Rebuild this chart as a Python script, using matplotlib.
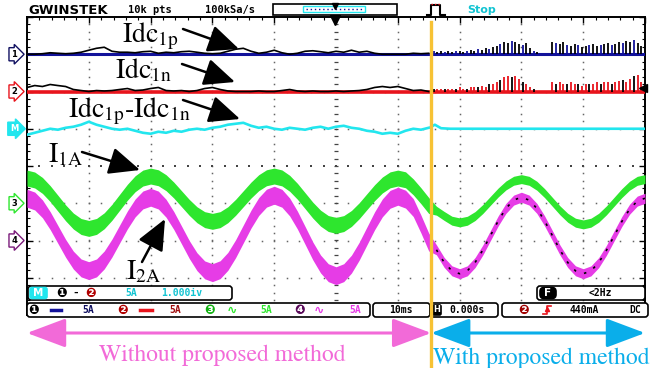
import numpy as np
import matplotlib
matplotlib.use("Agg")
import matplotlib.pyplot as plt
from matplotlib.patches import FancyBboxPatch, Rectangle
from matplotlib.transforms import blended_transform_factory as blend

plt.rcParams['mathtext.fontset'] = 'stix'

# ---------------- data ----------------
t_start, t_end = -50.0, 50.0      # ms  (10 ms/div, trigger at centre)
t_switch = 15.4                    # ms  proposed method switched on
amps_per_div = 5.0                 # 5 A/div on every channel

# phase currents I1A (ch3) and I2A (ch4), band centre in A, every 1.25 ms
t_wave = np.linspace(t_start, t_end, 81)
i1a = [3.38, 3.12, 2.39, 1.29, 0.00, -1.29, -2.39, -3.12, -3.38,
       -3.11, -2.35, -1.21, 0.14, 1.48, 2.62, 3.38, 3.65,
       3.42, 2.76, 1.77, 0.61, -0.55, -1.54, -2.20, -2.43,
       -2.20, -1.54, -0.55, 0.61, 1.77, 2.76, 3.42, 3.65,
       3.40, 2.68, 1.61, 0.34, -0.93, -2.00, -2.72, -2.97,
       -2.73, -2.04, -1.01, 0.21, 1.42, 2.45, 3.14, 3.38,
       3.15, 2.20, 1.00, -0.30, -1.00, -1.70, -2.34, -2.57,
       -2.35, -1.72, -0.78, 0.34, 1.45, 2.39, 3.02, 3.24,
       3.01, 2.35, 1.36, 0.20, -0.96, -1.95, -2.61, -2.84,
       -2.61, -1.95, -0.96, 0.20, 1.36, 2.35, 3.01, 3.24]
i2a = [5.67, 5.30, 4.25, 2.67, 0.81, -1.05, -2.63, -3.68, -4.05,
       -3.68, -2.61, -1.01, 0.88, 2.77, 4.37, 5.44, 5.81,
       5.43, 4.33, 2.69, 0.75, -1.20, -2.84, -3.94, -4.32,
       -3.92, -2.80, -1.11, 0.88, 2.87, 4.56, 5.68, 6.08,
       5.67, 4.50, 2.75, 0.68, -1.40, -3.15, -4.32, -4.73,
       -4.32, -3.17, -1.44, 0.61, 2.65, 4.38, 5.53, 5.94,
       5.55, 4.42, 2.20, -0.20, -1.25, -2.94, -4.07, -4.46,
       -4.07, -2.96, -1.29, 0.68, 2.64, 4.31, 5.42, 5.81,
       5.42, 4.31, 2.64, 0.68, -1.29, -2.96, -4.07, -4.46,
       -4.08, -2.98, -1.33, 0.61, 2.55, 4.19, 5.29, 5.67]
i1a_ripple = [1.07, 0.60]          # half band (A) before / after switch
i2a_ripple = [1.20, 0.67]

# DC-link currents before the switch, every 1.25 ms (A above baseline)
t_dc = np.linspace(t_start, 15.0, 53)
idc1p_before = [0.00, 0.00, 0.07, 0.20, 0.13, 0.07, 0.13, 0.27, 0.54, 0.80,
                0.94, 0.40, 0.27, 0.27, 0.20, 0.34, 0.40, 0.13, 0.27, 0.20,
                0.34, 0.40, 0.27, 0.13, 0.07, 0.13, 0.40, 0.67, 0.80, 0.40,
                0.13, 0.27, 0.54, 0.20, 0.00, 0.13, 0.40, 0.47, 0.34, 0.20,
                0.40, 0.27, 0.54, 0.27, 0.40, 0.13, 0.00, 0.00, 0.00, 0.00,
                0.13, 0.07, 0.13]
idc1n_before = [0.54, 0.80, 0.67, 0.94, 0.80, 0.67, 0.27, 0.13, 0.00, 0.13,
                0.07, 0.13, 0.27, 0.40, 0.13, 0.20, 0.40, 0.54, 0.13, 0.07,
                0.13, 0.00, 0.13, 0.40, 0.54, 0.27, 0.07, 0.00, 0.00, 0.00,
                0.07, 0.00, 0.00, 0.13, 0.27, 0.07, 0.00, 0.07, 0.00, 0.00,
                0.07, 0.00, 0.07, 0.13, 0.27, 0.54, 0.67, 0.54, 0.67, 0.40,
                0.13, 0.20, 0.00]
idc_diff_before = [-0.80, -0.54, -0.27, 0.00, -0.13, 0.13, 0.27, 0.54, 0.94, 0.54,
                   0.27, 0.00, -0.13, 0.00, -0.27, -0.54, -0.67, -0.40, -0.54, -0.27,
                   -0.40, -0.13, 0.00, -0.13, 0.13, 0.27, 0.54, 0.67, 0.80, 0.40,
                   0.13, 0.27, 0.00, -0.13, 0.13, 0.00, -0.13, 0.13, 0.27, 0.00,
                   0.27, 0.40, 0.13, 0.00, -0.27, -0.40, -0.67, -0.54, -0.67, -0.27,
                   0.00, -0.13, 0.13]
t_diff_after = [15.4, 16.0, 17.0, 18.5, 50.0]
idc_diff_after = [0.27, 0.54, 0.07, 0.00, 0.00]

# DC-link current pulses after the switch (A)
t_spike = np.linspace(15.8, 49.4, 57)
idc1p_spike = [0.40, 0.27, 0.40, 0.27, 0.40, 0.27, 0.40, 0.40, 0.27, 0.40,
               0.54, 0.40, 0.67, 0.54, 0.80, 0.67, 0.94, 1.07,
               1.34, 1.61, 1.47, 1.74, 1.61, 1.34, 1.21, 1.47, 0.80,
               0.40, 0.27, 0.00, 0.00, 0.00,
               1.61, 1.47, 1.34, 1.61, 1.21, 1.07, 1.34, 1.21, 0.94, 1.07,
               1.21, 1.34, 1.07, 1.21, 1.34, 1.47, 1.21, 1.34, 1.61, 1.47,
               1.74, 1.61, 1.88, 1.47, 1.07]
idc1n_spike = [0.27, 0.40, 0.27, 0.40, 0.40, 0.27, 0.40, 0.54, 0.40, 0.40,
               0.54, 0.67, 0.54, 0.80, 0.67, 0.94, 1.07, 1.21,
               1.61, 1.88, 2.14, 2.01, 2.14, 1.74, 1.34, 1.07, 0.67,
               0.27, 0.00, 0.00, 0.00, 0.00,
               1.34, 1.07, 1.21, 0.94, 1.07, 1.21, 0.94, 1.07, 0.80, 0.94,
               1.07, 0.94, 1.21, 1.07, 1.21, 1.34, 1.07, 1.21, 1.47, 1.61,
               1.34, 1.74, 2.14, 2.28, 1.34]
trigger_level = 0.44   # A on ch2

# ---------------- style ----------------
BLUE = '#12129a'
RED = '#e8141c'
CYAN = '#22e6ee'
GREEN = '#2ee62e'
MAG = '#e63ce6'
ORANGE = '#f7c234'
PINK = '#f26ad8'
SKY = '#0aaeea'
TXTC = '#12c4d2'
OFF = {'ch1': 3, 'ch2': 2, 'math': 1, 'ch3': -1, 'ch4': -2}

W, H = 654, 368
L, R, T, B = 27, 645, 17, 315
fig = plt.figure(figsize=(W / 100, H / 100), dpi=100)
ax = fig.add_axes([L / W, 1 - B / H, (R - L) / W, (B - T) / H])
ax.set_xlim(t_start, t_end)
ax.set_ylim(-4, 4)
for s in ['left', 'top', 'right']:
    ax.spines[s].set_linewidth(1.4)
ax.spines['bottom'].set_visible(False)
ax.set_xticks(np.arange(-50, 51, 10))
ax.set_xticks(np.arange(-50, 51, 2), minor=True)
ax.set_yticks(np.arange(-4, 5, 1))
ax.set_yticks(np.arange(-4, 4.01, 0.2), minor=True)
ax.tick_params(which='both', direction='in', top=True, bottom=False, left=True,
               right=True, labelleft=False, labelbottom=False, labeltop=False)
ax.tick_params(which='major', length=4, width=1)
ax.tick_params(which='minor', length=2.5, width=0.8)

# grid dots
ydots = np.arange(-4, 4.001, 0.2)
xdots = np.arange(-50, 50.01, 2)
for gx in np.arange(-40, 41, 10):
    if gx == 0:
        continue
    ax.plot(np.full_like(ydots, gx), ydots, ls='none', marker='s', ms=1.1,
            mew=0, color='#666666', zorder=1)
for gy in [-3, -2, -1, 1, 2, 3]:
    ax.plot(xdots, np.full_like(xdots, gy), ls='none', marker='s', ms=1.1,
            mew=0, color='#666666', zorder=1)
ax.plot(np.zeros_like(ydots), ydots, ls='none', marker='_', ms=3.5, mew=0.9,
        color='#444444', zorder=1)
ax.plot(xdots, np.zeros_like(xdots), ls='none', marker='s', ms=1.6, mew=0,
        color='#444444', zorder=1)


def pos(off, vals):
    return off + np.asarray(vals) / amps_per_div


# ch1 Idc1p
o = OFF['ch1']
ax.plot([t_start, t_end], [o, o], color=BLUE, lw=2.2, zorder=3,
        solid_capstyle='butt')
ax.plot(t_dc, pos(o, idc1p_before), color='black', lw=1.2, zorder=4)
cols1 = ['black' if i % 3 else BLUE for i in range(len(t_spike))]
ax.vlines(t_spike, o, pos(o, idc1p_spike), colors=cols1, lw=1.3, zorder=4)

# ch2 Idc1n
o = OFF['ch2']
ax.plot([t_start, t_end], [o, o], color=RED, lw=2.6, zorder=3,
        solid_capstyle='butt')
ax.plot(t_dc, pos(o, idc1n_before), color='black', lw=1.2, zorder=4)
cols2 = [RED if i % 3 else 'black' for i in range(len(t_spike))]
ax.vlines(t_spike, o, pos(o, idc1n_spike), colors=cols2, lw=1.3, zorder=4)

# math Idc1p - Idc1n
o = OFF['math']
ax.plot(t_dc, pos(o, idc_diff_before), color=CYAN, lw=1.9, zorder=4)
ax.plot(t_diff_after, pos(o, idc_diff_after), color=CYAN, lw=1.9, zorder=4)

# ch3 I1A
o = OFF['ch3']
hw = np.where(t_wave < t_switch, i1a_ripple[0], i1a_ripple[1]) / amps_per_div
c = pos(o, i1a)
ax.fill_between(t_wave, c - hw, c + hw, color=GREEN, lw=0, zorder=3)

# ch4 I2A
o = OFF['ch4']
hw = np.where(t_wave < t_switch, i2a_ripple[0], i2a_ripple[1]) / amps_per_div
c = pos(o, i2a)
ax.fill_between(t_wave, c - hw, c + hw, color=MAG, lw=0, zorder=3.5)
after = t_wave >= t_switch
ax.plot(t_wave[after], c[after], color='black', lw=1.2, dashes=(1.5, 5),
        zorder=3.6)

# ---------------- overlay (pixel coordinates) ----------------
ov = fig.add_axes([0, 0, 1, 1], zorder=5)
ov.set_xlim(0, W)
ov.set_ylim(H, 0)
ov.axis('off')
ov.patch.set_alpha(0)
tr_y = blend(ov.transData, ax.transData)   # x pixels, y scope divisions
tr_x = blend(ax.transData, ov.transData)   # x time, y pixels

MONO = 'DejaVu Sans Mono'


def rbox(x0, y0, x1, y1, fc='white', ec='black', lw=1.2, r=3, z=10):
    ov.add_patch(FancyBboxPatch((x0, y0), x1 - x0, y1 - y0,
                                boxstyle=f'round,pad=0,rounding_size={r}',
                                fc=fc, ec=ec, lw=lw, zorder=z))


def txt(x, y, s, color='black', size=7, ha='center', family=MONO, weight='bold', z=11):
    ov.text(x, y, s, color=color, fontsize=size, ha=ha, va='center',
            family=family, fontweight=weight, zorder=z)


# top status bar
txt(28, 10, 'GWINSTEK', size=9.5, ha='left', family='DejaVu Sans')
txt(128, 10, '10k pts', ha='left', size=7.5)
txt(205, 10, '100kSa/s', ha='left', size=7.5)
ov.add_patch(Rectangle((273, 4), 124, 11, fc='white', ec='black', lw=1.2, zorder=10))
ov.add_patch(Rectangle((303, 6), 62, 6, fc='white', ec=CYAN, lw=1.0, zorder=11))
ov.plot([306, 362], [9, 9], color=BLUE, lw=1, ls=(0, (1, 2)), zorder=12)
ov.plot([335], [6], marker='v', ms=5, color='black', zorder=12)
ov.plot([427, 431, 431, 440, 440, 445], [15, 15, 5, 5, 15, 15], color='black',
        lw=1.5, zorder=11)
ov.plot([431, 440], [4, 4], color=RED, lw=1, ls=(0, (1, 1.5)), zorder=11)
txt(467, 10, 'Stop', color=TXTC, ha='left', size=8, family='DejaVu Sans')
ov.plot([335], [20], marker='v', ms=7, color='black', zorder=12, clip_on=False)

# channel markers on left edge
marks = [('ch1', '1', 'white', '#101060', 'black'),
         ('ch2', '2', 'white', RED, 'black'),
         ('math', 'M', CYAN, CYAN, 'white'),
         ('ch3', '3', 'white', GREEN, 'black'),
         ('ch4', '4', 'white', '#7a1a7a', 'black')]
for ch, lab, fc, ec, tc in marks:
    ov.text(14, OFF[ch], lab, transform=tr_y, ha='center', va='center',
            fontsize=6, fontweight='bold', color=tc, family='DejaVu Sans',
            bbox=dict(boxstyle='rarrow,pad=0.25', fc=fc, ec=ec, lw=1.0), zorder=12)
# trigger level marker
ov.plot([643], [OFF['ch2'] + trigger_level / amps_per_div], transform=tr_y,
        marker='<', ms=6, color='black', zorder=12, clip_on=False)

# bottom status rows
rbox(28, 286, 232, 300)
rbox(30, 287.5, 47, 298.5, fc=CYAN, ec=CYAN, r=2, z=11)
txt(38.5, 293, 'M', color='white', size=7.5, family='DejaVu Sans', z=12)
txt(62, 293, '\u2776', size=9, family='DejaVu Sans')
txt(76, 293, '-', size=8)
txt(91, 293, '\u2777', size=9, color='#b00000', family='DejaVu Sans')
txt(131, 293, '5A', color=TXTC)
txt(182, 293, '1.000iv', color=TXTC)

rbox(537, 286, 645, 300)
rbox(540, 287.5, 556, 298.5, fc='black', ec='black', r=4, z=11)
txt(548, 293, 'F', color='white', size=7.5, family='DejaVu Sans', z=12)
txt(600, 293, '<2Hz')

rbox(27, 303, 370, 317)
txt(34, 310, '\u2776', size=9, family='DejaVu Sans')
ov.plot([51, 61], [310, 310], color=BLUE, lw=2.5, zorder=11)
txt(88, 310, '5A', color='#101060')
txt(123, 310, '\u2777', size=9, color='#b00000', family='DejaVu Sans')
ov.plot([140, 152], [310, 310], color=RED, lw=2.5, zorder=11)
txt(175, 310, '5A', color='#a01010')
txt(210, 310, '\u2778', size=9, color='#10b010', family='DejaVu Sans')
txt(232, 310, '\u223f', size=9, color=GREEN, family='DejaVu Sans')
txt(266, 310, '5A', color=GREEN)
txt(300, 310, '\u2779', size=9, color='#5a0a5a', family='DejaVu Sans')
txt(319, 310, '\u223f', size=9, color=MAG, family='DejaVu Sans')
txt(355, 310, '5A', color=MAG)
rbox(373, 303, 430, 317)
txt(401, 310, '10ms')
rbox(430, 303, 498, 317)
rbox(432, 305, 441, 315, fc='black', ec='black', r=1.5, z=11)
txt(436.5, 310, 'H', color='white', size=6, family='DejaVu Sans', z=12)
txt(467, 310, '0.000s')
rbox(502, 303, 648, 317)
txt(524, 310, '\u2777', size=9, color='#a00000', family='DejaVu Sans')
ov.plot([543, 547, 547, 551], [314, 314, 306, 306], color=RED, lw=1.2, zorder=11)
ov.plot([547], [309], marker='^', ms=3, color=RED, zorder=11)
txt(584, 310, '440mA')
txt(635, 310, 'DC')

# switch line
ov.plot([t_switch, t_switch], [22, H], transform=tr_x, color=ORANGE, lw=2.4,
        zorder=20, clip_on=False)

# annotations
SER = 'STIXGeneral'
labels = [(122, 42, r'Idc$_{\mathrm{1p}}$'),
          (115, 78, r'Idc$_{\mathrm{1n}}$'),
          (68, 117, r'Idc$_{\mathrm{1p}}$-Idc$_{\mathrm{1n}}$'),
          (48, 162, r'I$_{\mathrm{1A}}$'),
          (126, 279, r'I$_{\mathrm{2A}}$')]
for x, y, s in labels:
    ov.text(x, y, s, fontsize=20, family=SER, ha='left', va='baseline',
            color='black', zorder=15)
arrows = [((183, 29), (239, 49)), ((182, 64), (235, 82)), ((183, 100), (240, 119)),
          ((82, 152), (140, 170)), ((142, 262), (165, 219))]
for tail, tip in arrows:
    ov.annotate('', xy=tip, xytext=tail,
                arrowprops=dict(arrowstyle='-|>,head_length=0.95,head_width=0.42',
                                mutation_scale=20, lw=1.8, color='black',
                                shrinkA=0, shrinkB=0), zorder=15)

ov.annotate('', xy=(t_start, 333), xytext=(t_switch, 333), xycoords=tr_x,
            textcoords=tr_x,
            arrowprops=dict(arrowstyle='<|-|>,head_length=1.2,head_width=0.45',
                            mutation_scale=20, lw=2.2, color=PINK,
                            shrinkA=0, shrinkB=0), zorder=15, annotation_clip=False)
ov.annotate('', xy=(t_end, 333), xytext=(t_switch, 333), xycoords=tr_x,
            textcoords=tr_x,
            arrowprops=dict(arrowstyle='<|-|>,head_length=1.2,head_width=0.45',
                            mutation_scale=20, lw=2.2, color=SKY,
                            shrinkA=0, shrinkB=0), zorder=15, annotation_clip=False)
ov.text(222, 361, 'Without proposed method', fontsize=17, family=SER, color=PINK,
        ha='center', va='baseline', zorder=15)
ov.text(433, 364, 'With proposed method', fontsize=17, family=SER, color=SKY,
        ha='left', va='baseline', zorder=15)

fig.savefig('out.png', dpi=100)
